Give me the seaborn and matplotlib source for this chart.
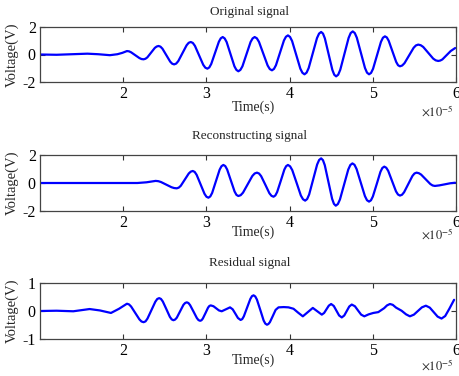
import matplotlib
matplotlib.use("Agg")
import matplotlib.pyplot as plt
import seaborn as sns
import pandas as pd

# ---- data: (time in units of 1e-5 s, voltage in V) ----
orig_points = [
    (1.00, 0.00), (1.20, -0.02), (1.40, 0.02), (1.57, 0.06), (1.70, 0.02),
    (1.84, -0.05), (1.93, 0.02), (1.99, 0.12), (2.045, 0.25), (2.07, 0.23),
    (2.095, 0.16), (2.145, -0.05), (2.195, -0.26), (2.22, -0.33), (2.245, -0.35),
    (2.2675, -0.31), (2.29, -0.21), (2.335, 0.135), (2.38, 0.48), (2.4025, 0.58),
    (2.425, 0.62), (2.448, 0.57), (2.472, 0.42), (2.519, -0.05), (2.565, -0.52),
    (2.589, -0.67), (2.612, -0.72), (2.637, -0.66), (2.662, -0.48), (2.712, 0.095),
    (2.762, 0.67), (2.787, 0.85), (2.812, 0.91), (2.837, 0.84), (2.862, 0.63),
    (2.912, -0.06), (2.962, -0.75), (2.987, -0.96), (3.012, -1.03), (3.035, -0.94),
    (3.058, -0.69), (3.104, 0.12), (3.150, 0.93), (3.173, 1.18), (3.196, 1.27),
    (3.2195, 1.17), (3.243, 0.91), (3.29, 0.025), (3.337, -0.86), (3.3605, -1.12),
    (3.384, -1.22), (3.4085, -1.12), (3.433, -0.86), (3.482, 0.025), (3.531, 0.91),
    (3.5555, 1.17), (3.58, 1.27), (3.606, 1.18), (3.632, 0.92), (3.684, 0.06),
    (3.736, -0.80), (3.762, -1.06), (3.788, -1.15), (3.812, -1.05), (3.836, -0.78),
    (3.884, 0.12), (3.932, 1.02), (3.956, 1.29), (3.98, 1.39), (4.005, 1.28),
    (4.03, 0.98), (4.08, -0.025), (4.129, -1.03), (4.154, -1.33), (4.179, -1.44),
    (4.204, -1.32), (4.229, -0.99), (4.279, 0.10), (4.329, 1.19), (4.354, 1.52),
    (4.379, 1.64), (4.4015, 1.52), (4.424, 1.17), (4.469, 0.025), (4.514, -1.12),
    (4.5365, -1.47), (4.559, -1.59), (4.584, -1.47), (4.609, -1.11), (4.659, 0.045),
    (4.709, 1.20), (4.734, 1.56), (4.759, 1.68), (4.7835, 1.56), (4.808, 1.22),
    (4.857, 0.12), (4.906, -0.98), (4.9305, -1.32), (4.955, -1.44), (4.979, -1.34),
    (5.003, -1.04), (5.05, -0.06), (5.098, 0.92), (5.122, 1.22), (5.146, 1.32),
    (5.1685, 1.24), (5.191, 1.00), (5.236, 0.23), (5.281, -0.54), (5.3035, -0.78),
    (5.326, -0.86), (5.3535, -0.80), (5.381, -0.63), (5.436, -0.07), (5.491, 0.49),
    (5.5185, 0.66), (5.546, 0.72), (5.576, 0.675), (5.606, 0.55), (5.666, 0.125),
    (5.726, -0.30), (5.756, -0.425), (5.786, -0.47), (5.811, -0.44), (5.836, -0.36),
    (5.886, -0.05), (5.936, 0.25), (5.99, 0.47),
]

recon_points = [
    (1.00, 0.00), (2.17, 0.00), (2.28, 0.05), (2.39, 0.15), (2.422, 0.13),
    (2.454, 0.07), (2.517, -0.115), (2.58, -0.30), (2.612, -0.36), (2.644, -0.38),
    (2.668, -0.33), (2.692, -0.20), (2.74, 0.24), (2.788, 0.68), (2.812, 0.81),
    (2.836, 0.86), (2.8595, 0.79), (2.883, 0.58), (2.93, -0.095), (2.977, -0.77),
    (3.0005, -0.98), (3.024, -1.05), (3.0465, -0.96), (3.069, -0.71), (3.114, 0.12),
    (3.159, 0.95), (3.1815, 1.20), (3.204, 1.29), (3.2265, 1.21), (3.249, 0.97),
    (3.294, 0.18), (3.339, -0.61), (3.3615, -0.85), (3.384, -0.93), (3.412, -0.87),
    (3.44, -0.69), (3.496, -0.095), (3.552, 0.50), (3.58, 0.68), (3.608, 0.74),
    (3.633, 0.675), (3.658, 0.49), (3.708, -0.12), (3.757, -0.73), (3.782, -0.915),
    (3.807, -0.98), (3.8286, -0.89), (3.85, -0.65), (3.894, 0.155), (3.937, 0.96),
    (3.9584, 1.20), (3.98, 1.29), (4.006, 1.19), (4.032, 0.92), (4.084, 0.015),
    (4.135, -0.89), (4.161, -1.16), (4.187, -1.26), (4.211, -1.145), (4.235, -0.82),
    (4.283, 0.25), (4.331, 1.32), (4.355, 1.645), (4.379, 1.76), (4.401, 1.63),
    (4.423, 1.27), (4.467, 0.07), (4.511, -1.13), (4.533, -1.49), (4.555, -1.62),
    (4.58, -1.505), (4.605, -1.18), (4.655, -0.11), (4.705, 0.96), (4.73, 1.285),
    (4.755, 1.40), (4.78, 1.30), (4.805, 1.00), (4.855, 0.035), (4.905, -0.93),
    (4.93, -1.23), (4.955, -1.33), (4.978, -1.235), (5.001, -0.96), (5.047, -0.08),
    (5.092, 0.80), (5.115, 1.075), (5.138, 1.17), (5.1615, 1.09), (5.185, 0.87),
    (5.232, 0.135), (5.279, -0.60), (5.3025, -0.82), (5.326, -0.90), (5.351, -0.84),
    (5.376, -0.66), (5.426, -0.08), (5.476, 0.50), (5.501, 0.68), (5.526, 0.74),
    (5.5535, 0.70), (5.581, 0.60), (5.636, 0.265), (5.691, -0.07), (5.7185, -0.175),
    (5.746, -0.21), (5.80, -0.17), (5.87, -0.09), (5.93, -0.02), (5.99, 0.02),
]

resid_points = [
    (1.00, 0.00), (1.20, 0.01), (1.40, -0.01), (1.596, 0.07), (1.72, 0.02),
    (1.853, -0.07), (1.95, 0.08), (2.045, 0.26), (2.07, 0.235), (2.095, 0.16),
    (2.145, -0.07), (2.195, -0.30), (2.22, -0.375), (2.245, -0.40), (2.2685, -0.37),
    (2.292, -0.27), (2.339, 0.03), (2.386, 0.33), (2.4095, 0.43), (2.433, 0.46),
    (2.454, 0.43), (2.476, 0.34), (2.519, 0.065), (2.561, -0.21), (2.583, -0.30),
    (2.604, -0.33), (2.624, -0.305), (2.644, -0.24), (2.684, -0.01), (2.724, 0.22),
    (2.744, 0.285), (2.764, 0.31), (2.784, 0.285), (2.804, 0.21), (2.845, -0.02),
    (2.885, -0.25), (2.905, -0.325), (2.925, -0.35), (2.941, -0.33), (2.957, -0.27),
    (2.989, -0.075), (3.02, 0.12), (3.036, 0.18), (3.052, 0.20), (3.085, 0.17),
    (3.118, 0.095), (3.151, 0.02), (3.184, -0.01), (3.234, 0.06), (3.284, 0.13),
    (3.316, 0.06), (3.348, -0.095), (3.379, -0.25), (3.411, -0.32), (3.4305, -0.29),
    (3.45, -0.19), (3.489, 0.12), (3.528, 0.43), (3.5475, 0.53), (3.567, 0.56),
    (3.587, 0.52), (3.607, 0.41), (3.648, 0.035), (3.688, -0.34), (3.708, -0.45),
    (3.728, -0.49), (3.745, -0.465), (3.763, -0.40), (3.798, -0.18), (3.832, 0.04),
    (3.867, 0.13), (3.93, 0.14), (3.987, 0.13), (4.047, 0.08), (4.103, -0.06),
    (4.159, -0.19), (4.219, -0.04), (4.279, 0.11), (4.333, -0.01), (4.387, -0.13),
    (4.415, -0.07), (4.443, 0.06), (4.471, 0.19), (4.499, 0.25), (4.531, 0.18),
    (4.563, 0.01), (4.595, -0.16), (4.627, -0.23), (4.657, -0.16), (4.687, 0.00),
    (4.717, 0.16), (4.747, 0.23), (4.785, 0.17), (4.822, 0.02), (4.86, -0.13),
    (4.898, -0.19), (4.95, -0.12), (5.006, -0.07), (5.066, -0.04), (5.136, 0.10),
    (5.171, 0.20), (5.206, 0.25), (5.24, 0.22), (5.28, 0.12), (5.346, 0.01),
    (5.40, -0.12), (5.446, -0.19), (5.494, -0.13), (5.542, 0.00), (5.59, 0.13),
    (5.638, 0.19), (5.685, 0.12), (5.732, -0.04), (5.779, -0.20), (5.826, -0.27),
    (5.87, -0.18), (5.92, 0.08), (5.977, 0.40),
]

titles = ["Original signal", "Reconstructing signal", "Residual signal"]
x_ticks = [2, 3, 4, 5, 6]
y_ticks = [[-2, 0, 2], [-2, 0, 2], [-1, 0, 1]]
y_lims = [(-2, 2), (-2, 2), (-1, 1)]

# ---- style ----
sns.set_style("ticks")
plt.rcParams["font.family"] = ["Liberation Serif", "DejaVu Serif"]
plt.rcParams["mathtext.fontset"] = "stix"
plt.rcParams["axes.unicode_minus"] = False

W, H = 459, 376
fig = plt.figure(figsize=(W / 100, H / 100), dpi=100)

# axes boxes in pixels: (left, top, right, bottom)
boxes = [(40, 27, 456, 82), (40, 155, 456, 211), (40, 283, 456, 339)]
title_y = [12, 136, 263]
xlabel_y = [107, 232, 360]
offset_y = [112, 235, 366]

series = [orig_points, recon_points, resid_points]

for i, ((l, t, r, b), pts) in enumerate(zip(boxes, series)):
    ax = fig.add_axes([l / W, 1 - b / H, (r - l) / W, (b - t) / H])
    df = pd.DataFrame(pts, columns=["t", "v"])
    sns.lineplot(data=df, x="t", y="v", ax=ax, color="#0000ff",
                 linewidth=1.6, estimator=None, sort=False)
    ax.set_xlim(1, 6)
    ax.set_ylim(*y_lims[i])
    ax.set_xticks(x_ticks)
    ax.set_yticks(y_ticks[i])
    ax.set_xticklabels([str(v) for v in x_ticks])
    ax.set_yticklabels([str(v) for v in y_ticks[i]])
    ax.tick_params(direction="in", length=3.5, width=0.8, labelsize=11.5,
                   top=True, right=True, pad=3, colors="#333333",
                   labelcolor="black")
    for s in ax.spines.values():
        s.set_visible(True)
        s.set_linewidth(0.9)
        s.set_color("#444444")
    ax.set_xlabel("")
    ax.set_ylabel("Voltage(V)", fontsize=10.5, labelpad=1)
    ax.yaxis.set_label_coords((19 - l) / (r - l), 0.5)
    fig.text(250 / W, 1 - title_y[i] / H, titles[i], ha="center",
             va="center", fontsize=9.5)
    fig.text(253 / W, 1 - xlabel_y[i] / H, "Time(s)", ha="center",
             va="center", fontsize=10)
    fig.text(437 / W, 1 - offset_y[i] / H, r"$\times10^{-5}$", ha="center",
             va="center", fontsize=9)

fig.savefig("out.png", dpi=100)
